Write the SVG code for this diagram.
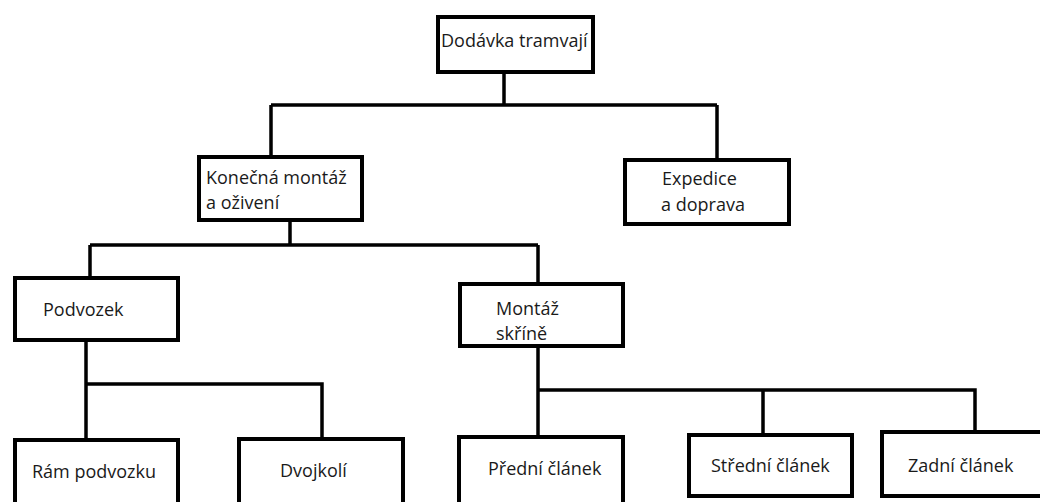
<svg xmlns="http://www.w3.org/2000/svg" width="1040" height="502" viewBox="0 0 1040 502">
<style>
.box{fill:#fff;stroke:#000;stroke-width:4}
.t{font-family:"Open Sans","Liberation Sans",sans-serif;font-size:18px;fill:#1a1a1a}
.c{stroke:#000;stroke-width:3.5;fill:none}
</style>
<rect width="1040" height="502" fill="#fff"/>
<g id="connectors">
<path class="c" d="M504 74V105M271 105H717M271 105V155M717 105V158"/>
<path class="c" d="M290 222V245M90 245H538M90 245V276M538 245V282"/>
<path class="c" d="M86 342V438M86 384H322V437"/>
<path class="c" d="M538 348V435M538 390H975V430M763 390V433"/>
</g>
<g id="n-dodavka"><rect class="box" x="438" y="17" width="155" height="55"/><text class="t" x="441" y="47">Dodávka tramvají</text></g>
<g id="n-konecna"><rect class="box" x="199" y="157" width="163" height="63"/><text class="t" x="206" y="184">Konečná montáž</text><text class="t" x="206" y="209">a oživení</text></g>
<g id="n-expedice"><rect class="box" x="625" y="160" width="164" height="64"/><text class="t" x="662" y="185">Expedice</text><text class="t" x="661" y="211">a doprava</text></g>
<g id="n-podvozek"><rect class="box" x="15" y="278" width="163" height="62"/><text class="t" x="43" y="316">Podvozek</text></g>
<g id="n-montaz"><rect class="box" x="460" y="284" width="163" height="62"/><text class="t" x="496" y="315">Montáž</text><text class="t" x="496" y="340">skříně</text></g>
<g id="n-ram"><rect class="box" x="15" y="440" width="163" height="80"/><text class="t" x="32" y="478">Rám podvozku</text></g>
<g id="n-dvojkoli"><rect class="box" x="239" y="439" width="164" height="80"/><text class="t" x="280" y="477">Dvojkolí</text></g>
<g id="n-predni"><rect class="box" x="459" y="437" width="164" height="80"/><text class="t" x="488" y="475">Přední článek</text></g>
<g id="n-stredni"><rect class="box" x="689" y="435" width="163" height="61"/><text class="t" x="711" y="472">Střední článek</text></g>
<g id="n-zadni"><rect class="box" x="882" y="432" width="170" height="64"/><text class="t" x="908" y="472">Zadní článek</text></g>
</svg>
